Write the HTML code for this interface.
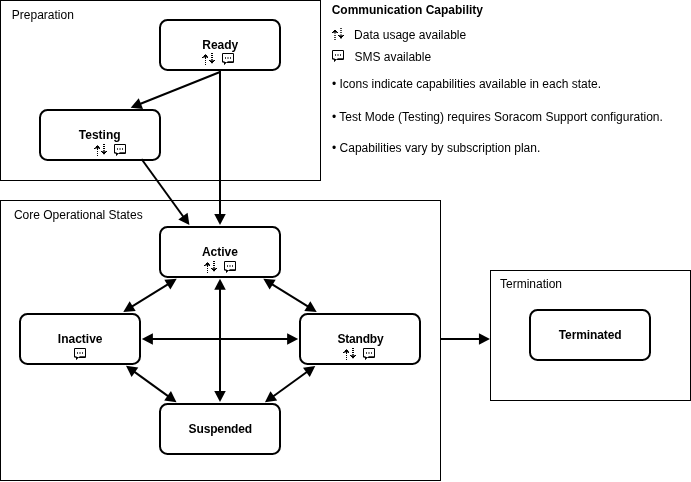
<!DOCTYPE html>
<html><head><meta charset="utf-8"><style>
html,body{margin:0;padding:0;background:#fff;width:691px;height:482px;overflow:hidden}
svg{display:block;will-change:transform}
text{font-family:"Liberation Sans",sans-serif;font-size:12px;fill:#000}
</style></head><body>
<svg width="691" height="482" viewBox="0 0 691 482">
<rect width="691" height="482" fill="#fff"/>
<rect x="0.5" y="0.5" width="320" height="180" fill="none" stroke="#000" stroke-width="1"/>
<rect x="0.5" y="200.5" width="440" height="280" fill="none" stroke="#000" stroke-width="1"/>
<rect x="490.5" y="270.5" width="200" height="130" fill="none" stroke="#000" stroke-width="1"/>
<rect x="160" y="20" width="120" height="50" rx="7.5" ry="7.5" fill="#fff" stroke="#000" stroke-width="2"/>
<rect x="40" y="110" width="120" height="50" rx="7.5" ry="7.5" fill="#fff" stroke="#000" stroke-width="2"/>
<rect x="160" y="227" width="120" height="50" rx="7.5" ry="7.5" fill="#fff" stroke="#000" stroke-width="2"/>
<rect x="20" y="314" width="120" height="50" rx="7.5" ry="7.5" fill="#fff" stroke="#000" stroke-width="2"/>
<rect x="300" y="314" width="120" height="50" rx="7.5" ry="7.5" fill="#fff" stroke="#000" stroke-width="2"/>
<rect x="160" y="404" width="120" height="50" rx="7.5" ry="7.5" fill="#fff" stroke="#000" stroke-width="2"/>
<rect x="530" y="310" width="120" height="50" rx="7.5" ry="7.5" fill="#fff" stroke="#000" stroke-width="2"/>
<path d="M130.68,107.73 L138.75,98.31 L143.02,108.98 Z" fill="#000"/>
<path d="M220.00,72.00 L139.96,104.02" fill="none" stroke="#000" stroke-width="2"/>
<path d="M220.00,224.95 L214.25,213.95 L225.75,213.95 Z" fill="#000"/>
<path d="M220.00,70.00 L220.00,214.95" fill="none" stroke="#000" stroke-width="2"/>
<path d="M189.41,225.08 L178.29,219.55 L187.60,212.80 Z" fill="#000"/>
<path d="M141.50,159.00 L183.54,216.99" fill="none" stroke="#000" stroke-width="2"/>
<path d="M123.30,311.88 L129.63,301.20 L135.68,310.98 Z" fill="#000"/>
<path d="M176.70,278.82 L170.37,289.50 L164.32,279.72 Z" fill="#000"/>
<path d="M168.20,284.08 L131.80,306.62" fill="none" stroke="#000" stroke-width="2"/>
<path d="M316.70,311.88 L304.32,310.98 L310.37,301.20 Z" fill="#000"/>
<path d="M263.30,278.82 L275.68,279.72 L269.63,289.50 Z" fill="#000"/>
<path d="M271.80,284.08 L308.20,306.62" fill="none" stroke="#000" stroke-width="2"/>
<path d="M176.48,402.20 L164.20,400.43 L170.93,391.11 Z" fill="#000"/>
<path d="M126.02,365.80 L138.30,367.57 L131.57,376.89 Z" fill="#000"/>
<path d="M134.13,371.65 L168.37,396.35" fill="none" stroke="#000" stroke-width="2"/>
<path d="M264.92,402.31 L270.46,391.20 L277.20,400.52 Z" fill="#000"/>
<path d="M315.28,365.89 L309.74,377.00 L303.00,367.68 Z" fill="#000"/>
<path d="M307.18,371.75 L273.02,396.45" fill="none" stroke="#000" stroke-width="2"/>
<path d="M298.15,339.00 L287.15,344.75 L287.15,333.25 Z" fill="#000"/>
<path d="M141.85,339.00 L152.85,333.25 L152.85,344.75 Z" fill="#000"/>
<path d="M151.85,339.00 L288.15,339.00" fill="none" stroke="#000" stroke-width="2"/>
<path d="M220.00,401.95 L214.25,390.95 L225.75,390.95 Z" fill="#000"/>
<path d="M220.00,278.85 L225.75,289.85 L214.25,289.85 Z" fill="#000"/>
<path d="M220.00,288.85 L220.00,391.95" fill="none" stroke="#000" stroke-width="2"/>
<path d="M489.95,339.00 L478.95,344.75 L478.95,333.25 Z" fill="#000"/>
<path d="M440.00,339.00 L479.95,339.00" fill="none" stroke="#000" stroke-width="2"/>
<g shape-rendering="crispEdges" fill="#000"><rect x="211" y="53" width="1" height="1" fill-opacity="1.0"/><rect x="212" y="53" width="1" height="1" fill-opacity="1.0"/><rect x="205" y="54" width="1" height="1" fill-opacity="0.72"/><rect x="204" y="55" width="1" height="1" fill-opacity="1.0"/><rect x="205" y="55" width="1" height="1" fill-opacity="1.0"/><rect x="206" y="55" width="1" height="1" fill-opacity="1.0"/><rect x="211" y="55" width="1" height="1" fill-opacity="1.0"/><rect x="212" y="55" width="1" height="1" fill-opacity="1.0"/><rect x="203" y="56" width="1" height="1" fill-opacity="0.72"/><rect x="204" y="56" width="1" height="1" fill-opacity="1.0"/><rect x="205" y="56" width="1" height="1" fill-opacity="1.0"/><rect x="206" y="56" width="1" height="1" fill-opacity="1.0"/><rect x="207" y="56" width="1" height="1" fill-opacity="0.72"/><rect x="202" y="57" width="1" height="1" fill-opacity="1.0"/><rect x="203" y="57" width="1" height="1" fill-opacity="0.72"/><rect x="204" y="57" width="1" height="1" fill-opacity="0.4"/><rect x="205" y="57" width="1" height="1" fill-opacity="1.0"/><rect x="206" y="57" width="1" height="1" fill-opacity="0.4"/><rect x="207" y="57" width="1" height="1" fill-opacity="1.0"/><rect x="211" y="57" width="1" height="1" fill-opacity="1.0"/><rect x="212" y="57" width="1" height="1" fill-opacity="1.0"/><rect x="205" y="58" width="1" height="1" fill-opacity="1.0"/><rect x="211" y="59" width="1" height="1" fill-opacity="0.72"/><rect x="212" y="59" width="1" height="1" fill-opacity="0.72"/><rect x="205" y="60" width="1" height="1" fill-opacity="1.0"/><rect x="209" y="60" width="1" height="1" fill-opacity="1.0"/><rect x="210" y="60" width="1" height="1" fill-opacity="0.72"/><rect x="211" y="60" width="1" height="1" fill-opacity="0.72"/><rect x="212" y="60" width="1" height="1" fill-opacity="0.72"/><rect x="213" y="60" width="1" height="1" fill-opacity="0.72"/><rect x="214" y="60" width="1" height="1" fill-opacity="1.0"/><rect x="210" y="61" width="1" height="1" fill-opacity="1.0"/><rect x="211" y="61" width="1" height="1" fill-opacity="1.0"/><rect x="212" y="61" width="1" height="1" fill-opacity="1.0"/><rect x="213" y="61" width="1" height="1" fill-opacity="1.0"/><rect x="205" y="62" width="1" height="1" fill-opacity="1.0"/><rect x="211" y="62" width="1" height="1" fill-opacity="1.0"/><rect x="212" y="62" width="1" height="1" fill-opacity="1.0"/><rect x="211" y="63" width="1" height="1" fill-opacity="0.2"/><rect x="212" y="63" width="1" height="1" fill-opacity="0.2"/><rect x="205" y="64" width="1" height="1" fill-opacity="1.0"/></g>
<g shape-rendering="crispEdges" fill="#000"><rect x="222" y="53" width="1" height="1" fill-opacity="0.72"/><rect x="223" y="53" width="1" height="1" fill-opacity="1.0"/><rect x="224" y="53" width="1" height="1" fill-opacity="1.0"/><rect x="225" y="53" width="1" height="1" fill-opacity="1.0"/><rect x="226" y="53" width="1" height="1" fill-opacity="1.0"/><rect x="227" y="53" width="1" height="1" fill-opacity="1.0"/><rect x="228" y="53" width="1" height="1" fill-opacity="1.0"/><rect x="229" y="53" width="1" height="1" fill-opacity="1.0"/><rect x="230" y="53" width="1" height="1" fill-opacity="1.0"/><rect x="231" y="53" width="1" height="1" fill-opacity="1.0"/><rect x="232" y="53" width="1" height="1" fill-opacity="1.0"/><rect x="233" y="53" width="1" height="1" fill-opacity="0.72"/><rect x="222" y="54" width="1" height="1" fill-opacity="1.0"/><rect x="233" y="54" width="1" height="1" fill-opacity="1.0"/><rect x="222" y="55" width="1" height="1" fill-opacity="1.0"/><rect x="233" y="55" width="1" height="1" fill-opacity="1.0"/><rect x="222" y="56" width="1" height="1" fill-opacity="1.0"/><rect x="233" y="56" width="1" height="1" fill-opacity="1.0"/><rect x="222" y="57" width="1" height="1" fill-opacity="1.0"/><rect x="225" y="57" width="1" height="1" fill-opacity="0.72"/><rect x="227" y="57" width="1" height="1" fill-opacity="0.4"/><rect x="228" y="57" width="1" height="1" fill-opacity="0.4"/><rect x="230" y="57" width="1" height="1" fill-opacity="0.72"/><rect x="233" y="57" width="1" height="1" fill-opacity="1.0"/><rect x="222" y="58" width="1" height="1" fill-opacity="1.0"/><rect x="225" y="58" width="1" height="1" fill-opacity="0.72"/><rect x="227" y="58" width="1" height="1" fill-opacity="0.4"/><rect x="228" y="58" width="1" height="1" fill-opacity="0.4"/><rect x="230" y="58" width="1" height="1" fill-opacity="0.72"/><rect x="233" y="58" width="1" height="1" fill-opacity="1.0"/><rect x="222" y="59" width="1" height="1" fill-opacity="1.0"/><rect x="233" y="59" width="1" height="1" fill-opacity="1.0"/><rect x="222" y="60" width="1" height="1" fill-opacity="1.0"/><rect x="233" y="60" width="1" height="1" fill-opacity="1.0"/><rect x="222" y="61" width="1" height="1" fill-opacity="1.0"/><rect x="223" y="61" width="1" height="1" fill-opacity="0.72"/><rect x="224" y="61" width="1" height="1" fill-opacity="0.4"/><rect x="227" y="61" width="1" height="1" fill-opacity="0.4"/><rect x="228" y="61" width="1" height="1" fill-opacity="0.72"/><rect x="229" y="61" width="1" height="1" fill-opacity="0.72"/><rect x="230" y="61" width="1" height="1" fill-opacity="0.72"/><rect x="231" y="61" width="1" height="1" fill-opacity="0.72"/><rect x="232" y="61" width="1" height="1" fill-opacity="0.72"/><rect x="233" y="61" width="1" height="1" fill-opacity="1.0"/><rect x="222" y="62" width="1" height="1" fill-opacity="0.4"/><rect x="223" y="62" width="1" height="1" fill-opacity="0.72"/><rect x="224" y="62" width="1" height="1" fill-opacity="1.0"/><rect x="225" y="62" width="1" height="1" fill-opacity="1.0"/><rect x="226" y="62" width="1" height="1" fill-opacity="0.72"/><rect x="227" y="62" width="1" height="1" fill-opacity="1.0"/><rect x="228" y="62" width="1" height="1" fill-opacity="1.0"/><rect x="229" y="62" width="1" height="1" fill-opacity="1.0"/><rect x="230" y="62" width="1" height="1" fill-opacity="1.0"/><rect x="231" y="62" width="1" height="1" fill-opacity="1.0"/><rect x="232" y="62" width="1" height="1" fill-opacity="1.0"/><rect x="233" y="62" width="1" height="1" fill-opacity="0.72"/><rect x="224" y="63" width="1" height="1" fill-opacity="1.0"/><rect x="225" y="63" width="1" height="1" fill-opacity="0.72"/><rect x="224" y="64" width="1" height="1" fill-opacity="0.72"/></g>
<g shape-rendering="crispEdges" fill="#000"><rect x="103" y="144" width="1" height="1" fill-opacity="1.0"/><rect x="104" y="144" width="1" height="1" fill-opacity="1.0"/><rect x="97" y="145" width="1" height="1" fill-opacity="0.72"/><rect x="96" y="146" width="1" height="1" fill-opacity="1.0"/><rect x="97" y="146" width="1" height="1" fill-opacity="1.0"/><rect x="98" y="146" width="1" height="1" fill-opacity="1.0"/><rect x="103" y="146" width="1" height="1" fill-opacity="1.0"/><rect x="104" y="146" width="1" height="1" fill-opacity="1.0"/><rect x="95" y="147" width="1" height="1" fill-opacity="0.72"/><rect x="96" y="147" width="1" height="1" fill-opacity="1.0"/><rect x="97" y="147" width="1" height="1" fill-opacity="1.0"/><rect x="98" y="147" width="1" height="1" fill-opacity="1.0"/><rect x="99" y="147" width="1" height="1" fill-opacity="0.72"/><rect x="94" y="148" width="1" height="1" fill-opacity="1.0"/><rect x="95" y="148" width="1" height="1" fill-opacity="0.72"/><rect x="96" y="148" width="1" height="1" fill-opacity="0.4"/><rect x="97" y="148" width="1" height="1" fill-opacity="1.0"/><rect x="98" y="148" width="1" height="1" fill-opacity="0.4"/><rect x="99" y="148" width="1" height="1" fill-opacity="1.0"/><rect x="103" y="148" width="1" height="1" fill-opacity="1.0"/><rect x="104" y="148" width="1" height="1" fill-opacity="1.0"/><rect x="97" y="149" width="1" height="1" fill-opacity="1.0"/><rect x="103" y="150" width="1" height="1" fill-opacity="0.72"/><rect x="104" y="150" width="1" height="1" fill-opacity="0.72"/><rect x="97" y="151" width="1" height="1" fill-opacity="1.0"/><rect x="101" y="151" width="1" height="1" fill-opacity="1.0"/><rect x="102" y="151" width="1" height="1" fill-opacity="0.72"/><rect x="103" y="151" width="1" height="1" fill-opacity="0.72"/><rect x="104" y="151" width="1" height="1" fill-opacity="0.72"/><rect x="105" y="151" width="1" height="1" fill-opacity="0.72"/><rect x="106" y="151" width="1" height="1" fill-opacity="1.0"/><rect x="102" y="152" width="1" height="1" fill-opacity="1.0"/><rect x="103" y="152" width="1" height="1" fill-opacity="1.0"/><rect x="104" y="152" width="1" height="1" fill-opacity="1.0"/><rect x="105" y="152" width="1" height="1" fill-opacity="1.0"/><rect x="97" y="153" width="1" height="1" fill-opacity="1.0"/><rect x="103" y="153" width="1" height="1" fill-opacity="1.0"/><rect x="104" y="153" width="1" height="1" fill-opacity="1.0"/><rect x="103" y="154" width="1" height="1" fill-opacity="0.2"/><rect x="104" y="154" width="1" height="1" fill-opacity="0.2"/><rect x="97" y="155" width="1" height="1" fill-opacity="1.0"/></g>
<g shape-rendering="crispEdges" fill="#000"><rect x="114" y="144" width="1" height="1" fill-opacity="0.72"/><rect x="115" y="144" width="1" height="1" fill-opacity="1.0"/><rect x="116" y="144" width="1" height="1" fill-opacity="1.0"/><rect x="117" y="144" width="1" height="1" fill-opacity="1.0"/><rect x="118" y="144" width="1" height="1" fill-opacity="1.0"/><rect x="119" y="144" width="1" height="1" fill-opacity="1.0"/><rect x="120" y="144" width="1" height="1" fill-opacity="1.0"/><rect x="121" y="144" width="1" height="1" fill-opacity="1.0"/><rect x="122" y="144" width="1" height="1" fill-opacity="1.0"/><rect x="123" y="144" width="1" height="1" fill-opacity="1.0"/><rect x="124" y="144" width="1" height="1" fill-opacity="1.0"/><rect x="125" y="144" width="1" height="1" fill-opacity="0.72"/><rect x="114" y="145" width="1" height="1" fill-opacity="1.0"/><rect x="125" y="145" width="1" height="1" fill-opacity="1.0"/><rect x="114" y="146" width="1" height="1" fill-opacity="1.0"/><rect x="125" y="146" width="1" height="1" fill-opacity="1.0"/><rect x="114" y="147" width="1" height="1" fill-opacity="1.0"/><rect x="125" y="147" width="1" height="1" fill-opacity="1.0"/><rect x="114" y="148" width="1" height="1" fill-opacity="1.0"/><rect x="117" y="148" width="1" height="1" fill-opacity="0.72"/><rect x="119" y="148" width="1" height="1" fill-opacity="0.4"/><rect x="120" y="148" width="1" height="1" fill-opacity="0.4"/><rect x="122" y="148" width="1" height="1" fill-opacity="0.72"/><rect x="125" y="148" width="1" height="1" fill-opacity="1.0"/><rect x="114" y="149" width="1" height="1" fill-opacity="1.0"/><rect x="117" y="149" width="1" height="1" fill-opacity="0.72"/><rect x="119" y="149" width="1" height="1" fill-opacity="0.4"/><rect x="120" y="149" width="1" height="1" fill-opacity="0.4"/><rect x="122" y="149" width="1" height="1" fill-opacity="0.72"/><rect x="125" y="149" width="1" height="1" fill-opacity="1.0"/><rect x="114" y="150" width="1" height="1" fill-opacity="1.0"/><rect x="125" y="150" width="1" height="1" fill-opacity="1.0"/><rect x="114" y="151" width="1" height="1" fill-opacity="1.0"/><rect x="125" y="151" width="1" height="1" fill-opacity="1.0"/><rect x="114" y="152" width="1" height="1" fill-opacity="1.0"/><rect x="115" y="152" width="1" height="1" fill-opacity="0.72"/><rect x="116" y="152" width="1" height="1" fill-opacity="0.4"/><rect x="119" y="152" width="1" height="1" fill-opacity="0.4"/><rect x="120" y="152" width="1" height="1" fill-opacity="0.72"/><rect x="121" y="152" width="1" height="1" fill-opacity="0.72"/><rect x="122" y="152" width="1" height="1" fill-opacity="0.72"/><rect x="123" y="152" width="1" height="1" fill-opacity="0.72"/><rect x="124" y="152" width="1" height="1" fill-opacity="0.72"/><rect x="125" y="152" width="1" height="1" fill-opacity="1.0"/><rect x="114" y="153" width="1" height="1" fill-opacity="0.4"/><rect x="115" y="153" width="1" height="1" fill-opacity="0.72"/><rect x="116" y="153" width="1" height="1" fill-opacity="1.0"/><rect x="117" y="153" width="1" height="1" fill-opacity="1.0"/><rect x="118" y="153" width="1" height="1" fill-opacity="0.72"/><rect x="119" y="153" width="1" height="1" fill-opacity="1.0"/><rect x="120" y="153" width="1" height="1" fill-opacity="1.0"/><rect x="121" y="153" width="1" height="1" fill-opacity="1.0"/><rect x="122" y="153" width="1" height="1" fill-opacity="1.0"/><rect x="123" y="153" width="1" height="1" fill-opacity="1.0"/><rect x="124" y="153" width="1" height="1" fill-opacity="1.0"/><rect x="125" y="153" width="1" height="1" fill-opacity="0.72"/><rect x="116" y="154" width="1" height="1" fill-opacity="1.0"/><rect x="117" y="154" width="1" height="1" fill-opacity="0.72"/><rect x="116" y="155" width="1" height="1" fill-opacity="0.72"/></g>
<g shape-rendering="crispEdges" fill="#000"><rect x="213" y="261" width="1" height="1" fill-opacity="1.0"/><rect x="214" y="261" width="1" height="1" fill-opacity="1.0"/><rect x="207" y="262" width="1" height="1" fill-opacity="0.72"/><rect x="206" y="263" width="1" height="1" fill-opacity="1.0"/><rect x="207" y="263" width="1" height="1" fill-opacity="1.0"/><rect x="208" y="263" width="1" height="1" fill-opacity="1.0"/><rect x="213" y="263" width="1" height="1" fill-opacity="1.0"/><rect x="214" y="263" width="1" height="1" fill-opacity="1.0"/><rect x="205" y="264" width="1" height="1" fill-opacity="0.72"/><rect x="206" y="264" width="1" height="1" fill-opacity="1.0"/><rect x="207" y="264" width="1" height="1" fill-opacity="1.0"/><rect x="208" y="264" width="1" height="1" fill-opacity="1.0"/><rect x="209" y="264" width="1" height="1" fill-opacity="0.72"/><rect x="204" y="265" width="1" height="1" fill-opacity="1.0"/><rect x="205" y="265" width="1" height="1" fill-opacity="0.72"/><rect x="206" y="265" width="1" height="1" fill-opacity="0.4"/><rect x="207" y="265" width="1" height="1" fill-opacity="1.0"/><rect x="208" y="265" width="1" height="1" fill-opacity="0.4"/><rect x="209" y="265" width="1" height="1" fill-opacity="1.0"/><rect x="213" y="265" width="1" height="1" fill-opacity="1.0"/><rect x="214" y="265" width="1" height="1" fill-opacity="1.0"/><rect x="207" y="266" width="1" height="1" fill-opacity="1.0"/><rect x="213" y="267" width="1" height="1" fill-opacity="0.72"/><rect x="214" y="267" width="1" height="1" fill-opacity="0.72"/><rect x="207" y="268" width="1" height="1" fill-opacity="1.0"/><rect x="211" y="268" width="1" height="1" fill-opacity="1.0"/><rect x="212" y="268" width="1" height="1" fill-opacity="0.72"/><rect x="213" y="268" width="1" height="1" fill-opacity="0.72"/><rect x="214" y="268" width="1" height="1" fill-opacity="0.72"/><rect x="215" y="268" width="1" height="1" fill-opacity="0.72"/><rect x="216" y="268" width="1" height="1" fill-opacity="1.0"/><rect x="212" y="269" width="1" height="1" fill-opacity="1.0"/><rect x="213" y="269" width="1" height="1" fill-opacity="1.0"/><rect x="214" y="269" width="1" height="1" fill-opacity="1.0"/><rect x="215" y="269" width="1" height="1" fill-opacity="1.0"/><rect x="207" y="270" width="1" height="1" fill-opacity="1.0"/><rect x="213" y="270" width="1" height="1" fill-opacity="1.0"/><rect x="214" y="270" width="1" height="1" fill-opacity="1.0"/><rect x="213" y="271" width="1" height="1" fill-opacity="0.2"/><rect x="214" y="271" width="1" height="1" fill-opacity="0.2"/><rect x="207" y="272" width="1" height="1" fill-opacity="1.0"/></g>
<g shape-rendering="crispEdges" fill="#000"><rect x="224" y="261" width="1" height="1" fill-opacity="0.72"/><rect x="225" y="261" width="1" height="1" fill-opacity="1.0"/><rect x="226" y="261" width="1" height="1" fill-opacity="1.0"/><rect x="227" y="261" width="1" height="1" fill-opacity="1.0"/><rect x="228" y="261" width="1" height="1" fill-opacity="1.0"/><rect x="229" y="261" width="1" height="1" fill-opacity="1.0"/><rect x="230" y="261" width="1" height="1" fill-opacity="1.0"/><rect x="231" y="261" width="1" height="1" fill-opacity="1.0"/><rect x="232" y="261" width="1" height="1" fill-opacity="1.0"/><rect x="233" y="261" width="1" height="1" fill-opacity="1.0"/><rect x="234" y="261" width="1" height="1" fill-opacity="1.0"/><rect x="235" y="261" width="1" height="1" fill-opacity="0.72"/><rect x="224" y="262" width="1" height="1" fill-opacity="1.0"/><rect x="235" y="262" width="1" height="1" fill-opacity="1.0"/><rect x="224" y="263" width="1" height="1" fill-opacity="1.0"/><rect x="235" y="263" width="1" height="1" fill-opacity="1.0"/><rect x="224" y="264" width="1" height="1" fill-opacity="1.0"/><rect x="235" y="264" width="1" height="1" fill-opacity="1.0"/><rect x="224" y="265" width="1" height="1" fill-opacity="1.0"/><rect x="227" y="265" width="1" height="1" fill-opacity="0.72"/><rect x="229" y="265" width="1" height="1" fill-opacity="0.4"/><rect x="230" y="265" width="1" height="1" fill-opacity="0.4"/><rect x="232" y="265" width="1" height="1" fill-opacity="0.72"/><rect x="235" y="265" width="1" height="1" fill-opacity="1.0"/><rect x="224" y="266" width="1" height="1" fill-opacity="1.0"/><rect x="227" y="266" width="1" height="1" fill-opacity="0.72"/><rect x="229" y="266" width="1" height="1" fill-opacity="0.4"/><rect x="230" y="266" width="1" height="1" fill-opacity="0.4"/><rect x="232" y="266" width="1" height="1" fill-opacity="0.72"/><rect x="235" y="266" width="1" height="1" fill-opacity="1.0"/><rect x="224" y="267" width="1" height="1" fill-opacity="1.0"/><rect x="235" y="267" width="1" height="1" fill-opacity="1.0"/><rect x="224" y="268" width="1" height="1" fill-opacity="1.0"/><rect x="235" y="268" width="1" height="1" fill-opacity="1.0"/><rect x="224" y="269" width="1" height="1" fill-opacity="1.0"/><rect x="225" y="269" width="1" height="1" fill-opacity="0.72"/><rect x="226" y="269" width="1" height="1" fill-opacity="0.4"/><rect x="229" y="269" width="1" height="1" fill-opacity="0.4"/><rect x="230" y="269" width="1" height="1" fill-opacity="0.72"/><rect x="231" y="269" width="1" height="1" fill-opacity="0.72"/><rect x="232" y="269" width="1" height="1" fill-opacity="0.72"/><rect x="233" y="269" width="1" height="1" fill-opacity="0.72"/><rect x="234" y="269" width="1" height="1" fill-opacity="0.72"/><rect x="235" y="269" width="1" height="1" fill-opacity="1.0"/><rect x="224" y="270" width="1" height="1" fill-opacity="0.4"/><rect x="225" y="270" width="1" height="1" fill-opacity="0.72"/><rect x="226" y="270" width="1" height="1" fill-opacity="1.0"/><rect x="227" y="270" width="1" height="1" fill-opacity="1.0"/><rect x="228" y="270" width="1" height="1" fill-opacity="0.72"/><rect x="229" y="270" width="1" height="1" fill-opacity="1.0"/><rect x="230" y="270" width="1" height="1" fill-opacity="1.0"/><rect x="231" y="270" width="1" height="1" fill-opacity="1.0"/><rect x="232" y="270" width="1" height="1" fill-opacity="1.0"/><rect x="233" y="270" width="1" height="1" fill-opacity="1.0"/><rect x="234" y="270" width="1" height="1" fill-opacity="1.0"/><rect x="235" y="270" width="1" height="1" fill-opacity="0.72"/><rect x="226" y="271" width="1" height="1" fill-opacity="1.0"/><rect x="227" y="271" width="1" height="1" fill-opacity="0.72"/><rect x="226" y="272" width="1" height="1" fill-opacity="0.72"/></g>
<g shape-rendering="crispEdges" fill="#000"><rect x="352" y="348" width="1" height="1" fill-opacity="1.0"/><rect x="353" y="348" width="1" height="1" fill-opacity="1.0"/><rect x="346" y="349" width="1" height="1" fill-opacity="0.72"/><rect x="345" y="350" width="1" height="1" fill-opacity="1.0"/><rect x="346" y="350" width="1" height="1" fill-opacity="1.0"/><rect x="347" y="350" width="1" height="1" fill-opacity="1.0"/><rect x="352" y="350" width="1" height="1" fill-opacity="1.0"/><rect x="353" y="350" width="1" height="1" fill-opacity="1.0"/><rect x="344" y="351" width="1" height="1" fill-opacity="0.72"/><rect x="345" y="351" width="1" height="1" fill-opacity="1.0"/><rect x="346" y="351" width="1" height="1" fill-opacity="1.0"/><rect x="347" y="351" width="1" height="1" fill-opacity="1.0"/><rect x="348" y="351" width="1" height="1" fill-opacity="0.72"/><rect x="343" y="352" width="1" height="1" fill-opacity="1.0"/><rect x="344" y="352" width="1" height="1" fill-opacity="0.72"/><rect x="345" y="352" width="1" height="1" fill-opacity="0.4"/><rect x="346" y="352" width="1" height="1" fill-opacity="1.0"/><rect x="347" y="352" width="1" height="1" fill-opacity="0.4"/><rect x="348" y="352" width="1" height="1" fill-opacity="1.0"/><rect x="352" y="352" width="1" height="1" fill-opacity="1.0"/><rect x="353" y="352" width="1" height="1" fill-opacity="1.0"/><rect x="346" y="353" width="1" height="1" fill-opacity="1.0"/><rect x="352" y="354" width="1" height="1" fill-opacity="0.72"/><rect x="353" y="354" width="1" height="1" fill-opacity="0.72"/><rect x="346" y="355" width="1" height="1" fill-opacity="1.0"/><rect x="350" y="355" width="1" height="1" fill-opacity="1.0"/><rect x="351" y="355" width="1" height="1" fill-opacity="0.72"/><rect x="352" y="355" width="1" height="1" fill-opacity="0.72"/><rect x="353" y="355" width="1" height="1" fill-opacity="0.72"/><rect x="354" y="355" width="1" height="1" fill-opacity="0.72"/><rect x="355" y="355" width="1" height="1" fill-opacity="1.0"/><rect x="351" y="356" width="1" height="1" fill-opacity="1.0"/><rect x="352" y="356" width="1" height="1" fill-opacity="1.0"/><rect x="353" y="356" width="1" height="1" fill-opacity="1.0"/><rect x="354" y="356" width="1" height="1" fill-opacity="1.0"/><rect x="346" y="357" width="1" height="1" fill-opacity="1.0"/><rect x="352" y="357" width="1" height="1" fill-opacity="1.0"/><rect x="353" y="357" width="1" height="1" fill-opacity="1.0"/><rect x="352" y="358" width="1" height="1" fill-opacity="0.2"/><rect x="353" y="358" width="1" height="1" fill-opacity="0.2"/><rect x="346" y="359" width="1" height="1" fill-opacity="1.0"/></g>
<g shape-rendering="crispEdges" fill="#000"><rect x="363" y="348" width="1" height="1" fill-opacity="0.72"/><rect x="364" y="348" width="1" height="1" fill-opacity="1.0"/><rect x="365" y="348" width="1" height="1" fill-opacity="1.0"/><rect x="366" y="348" width="1" height="1" fill-opacity="1.0"/><rect x="367" y="348" width="1" height="1" fill-opacity="1.0"/><rect x="368" y="348" width="1" height="1" fill-opacity="1.0"/><rect x="369" y="348" width="1" height="1" fill-opacity="1.0"/><rect x="370" y="348" width="1" height="1" fill-opacity="1.0"/><rect x="371" y="348" width="1" height="1" fill-opacity="1.0"/><rect x="372" y="348" width="1" height="1" fill-opacity="1.0"/><rect x="373" y="348" width="1" height="1" fill-opacity="1.0"/><rect x="374" y="348" width="1" height="1" fill-opacity="0.72"/><rect x="363" y="349" width="1" height="1" fill-opacity="1.0"/><rect x="374" y="349" width="1" height="1" fill-opacity="1.0"/><rect x="363" y="350" width="1" height="1" fill-opacity="1.0"/><rect x="374" y="350" width="1" height="1" fill-opacity="1.0"/><rect x="363" y="351" width="1" height="1" fill-opacity="1.0"/><rect x="374" y="351" width="1" height="1" fill-opacity="1.0"/><rect x="363" y="352" width="1" height="1" fill-opacity="1.0"/><rect x="366" y="352" width="1" height="1" fill-opacity="0.72"/><rect x="368" y="352" width="1" height="1" fill-opacity="0.4"/><rect x="369" y="352" width="1" height="1" fill-opacity="0.4"/><rect x="371" y="352" width="1" height="1" fill-opacity="0.72"/><rect x="374" y="352" width="1" height="1" fill-opacity="1.0"/><rect x="363" y="353" width="1" height="1" fill-opacity="1.0"/><rect x="366" y="353" width="1" height="1" fill-opacity="0.72"/><rect x="368" y="353" width="1" height="1" fill-opacity="0.4"/><rect x="369" y="353" width="1" height="1" fill-opacity="0.4"/><rect x="371" y="353" width="1" height="1" fill-opacity="0.72"/><rect x="374" y="353" width="1" height="1" fill-opacity="1.0"/><rect x="363" y="354" width="1" height="1" fill-opacity="1.0"/><rect x="374" y="354" width="1" height="1" fill-opacity="1.0"/><rect x="363" y="355" width="1" height="1" fill-opacity="1.0"/><rect x="374" y="355" width="1" height="1" fill-opacity="1.0"/><rect x="363" y="356" width="1" height="1" fill-opacity="1.0"/><rect x="364" y="356" width="1" height="1" fill-opacity="0.72"/><rect x="365" y="356" width="1" height="1" fill-opacity="0.4"/><rect x="368" y="356" width="1" height="1" fill-opacity="0.4"/><rect x="369" y="356" width="1" height="1" fill-opacity="0.72"/><rect x="370" y="356" width="1" height="1" fill-opacity="0.72"/><rect x="371" y="356" width="1" height="1" fill-opacity="0.72"/><rect x="372" y="356" width="1" height="1" fill-opacity="0.72"/><rect x="373" y="356" width="1" height="1" fill-opacity="0.72"/><rect x="374" y="356" width="1" height="1" fill-opacity="1.0"/><rect x="363" y="357" width="1" height="1" fill-opacity="0.4"/><rect x="364" y="357" width="1" height="1" fill-opacity="0.72"/><rect x="365" y="357" width="1" height="1" fill-opacity="1.0"/><rect x="366" y="357" width="1" height="1" fill-opacity="1.0"/><rect x="367" y="357" width="1" height="1" fill-opacity="0.72"/><rect x="368" y="357" width="1" height="1" fill-opacity="1.0"/><rect x="369" y="357" width="1" height="1" fill-opacity="1.0"/><rect x="370" y="357" width="1" height="1" fill-opacity="1.0"/><rect x="371" y="357" width="1" height="1" fill-opacity="1.0"/><rect x="372" y="357" width="1" height="1" fill-opacity="1.0"/><rect x="373" y="357" width="1" height="1" fill-opacity="1.0"/><rect x="374" y="357" width="1" height="1" fill-opacity="0.72"/><rect x="365" y="358" width="1" height="1" fill-opacity="1.0"/><rect x="366" y="358" width="1" height="1" fill-opacity="0.72"/><rect x="365" y="359" width="1" height="1" fill-opacity="0.72"/></g>
<g shape-rendering="crispEdges" fill="#000"><rect x="74" y="348" width="1" height="1" fill-opacity="0.72"/><rect x="75" y="348" width="1" height="1" fill-opacity="1.0"/><rect x="76" y="348" width="1" height="1" fill-opacity="1.0"/><rect x="77" y="348" width="1" height="1" fill-opacity="1.0"/><rect x="78" y="348" width="1" height="1" fill-opacity="1.0"/><rect x="79" y="348" width="1" height="1" fill-opacity="1.0"/><rect x="80" y="348" width="1" height="1" fill-opacity="1.0"/><rect x="81" y="348" width="1" height="1" fill-opacity="1.0"/><rect x="82" y="348" width="1" height="1" fill-opacity="1.0"/><rect x="83" y="348" width="1" height="1" fill-opacity="1.0"/><rect x="84" y="348" width="1" height="1" fill-opacity="1.0"/><rect x="85" y="348" width="1" height="1" fill-opacity="0.72"/><rect x="74" y="349" width="1" height="1" fill-opacity="1.0"/><rect x="85" y="349" width="1" height="1" fill-opacity="1.0"/><rect x="74" y="350" width="1" height="1" fill-opacity="1.0"/><rect x="85" y="350" width="1" height="1" fill-opacity="1.0"/><rect x="74" y="351" width="1" height="1" fill-opacity="1.0"/><rect x="85" y="351" width="1" height="1" fill-opacity="1.0"/><rect x="74" y="352" width="1" height="1" fill-opacity="1.0"/><rect x="77" y="352" width="1" height="1" fill-opacity="0.72"/><rect x="79" y="352" width="1" height="1" fill-opacity="0.4"/><rect x="80" y="352" width="1" height="1" fill-opacity="0.4"/><rect x="82" y="352" width="1" height="1" fill-opacity="0.72"/><rect x="85" y="352" width="1" height="1" fill-opacity="1.0"/><rect x="74" y="353" width="1" height="1" fill-opacity="1.0"/><rect x="77" y="353" width="1" height="1" fill-opacity="0.72"/><rect x="79" y="353" width="1" height="1" fill-opacity="0.4"/><rect x="80" y="353" width="1" height="1" fill-opacity="0.4"/><rect x="82" y="353" width="1" height="1" fill-opacity="0.72"/><rect x="85" y="353" width="1" height="1" fill-opacity="1.0"/><rect x="74" y="354" width="1" height="1" fill-opacity="1.0"/><rect x="85" y="354" width="1" height="1" fill-opacity="1.0"/><rect x="74" y="355" width="1" height="1" fill-opacity="1.0"/><rect x="85" y="355" width="1" height="1" fill-opacity="1.0"/><rect x="74" y="356" width="1" height="1" fill-opacity="1.0"/><rect x="75" y="356" width="1" height="1" fill-opacity="0.72"/><rect x="76" y="356" width="1" height="1" fill-opacity="0.4"/><rect x="79" y="356" width="1" height="1" fill-opacity="0.4"/><rect x="80" y="356" width="1" height="1" fill-opacity="0.72"/><rect x="81" y="356" width="1" height="1" fill-opacity="0.72"/><rect x="82" y="356" width="1" height="1" fill-opacity="0.72"/><rect x="83" y="356" width="1" height="1" fill-opacity="0.72"/><rect x="84" y="356" width="1" height="1" fill-opacity="0.72"/><rect x="85" y="356" width="1" height="1" fill-opacity="1.0"/><rect x="74" y="357" width="1" height="1" fill-opacity="0.4"/><rect x="75" y="357" width="1" height="1" fill-opacity="0.72"/><rect x="76" y="357" width="1" height="1" fill-opacity="1.0"/><rect x="77" y="357" width="1" height="1" fill-opacity="1.0"/><rect x="78" y="357" width="1" height="1" fill-opacity="0.72"/><rect x="79" y="357" width="1" height="1" fill-opacity="1.0"/><rect x="80" y="357" width="1" height="1" fill-opacity="1.0"/><rect x="81" y="357" width="1" height="1" fill-opacity="1.0"/><rect x="82" y="357" width="1" height="1" fill-opacity="1.0"/><rect x="83" y="357" width="1" height="1" fill-opacity="1.0"/><rect x="84" y="357" width="1" height="1" fill-opacity="1.0"/><rect x="85" y="357" width="1" height="1" fill-opacity="0.72"/><rect x="76" y="358" width="1" height="1" fill-opacity="1.0"/><rect x="77" y="358" width="1" height="1" fill-opacity="0.72"/><rect x="76" y="359" width="1" height="1" fill-opacity="0.72"/></g>
<g shape-rendering="crispEdges" fill="#000"><rect x="340" y="28" width="1" height="1" fill-opacity="0.72"/><rect x="341" y="28" width="1" height="1" fill-opacity="0.72"/><rect x="334" y="30" width="1" height="1" fill-opacity="1.0"/><rect x="335" y="30" width="1" height="1" fill-opacity="1.0"/><rect x="340" y="30" width="1" height="1" fill-opacity="0.72"/><rect x="341" y="30" width="1" height="1" fill-opacity="0.72"/><rect x="333" y="31" width="1" height="1" fill-opacity="1.0"/><rect x="334" y="31" width="1" height="1" fill-opacity="1.0"/><rect x="335" y="31" width="1" height="1" fill-opacity="1.0"/><rect x="336" y="31" width="1" height="1" fill-opacity="1.0"/><rect x="332" y="32" width="1" height="1" fill-opacity="1.0"/><rect x="333" y="32" width="1" height="1" fill-opacity="0.72"/><rect x="334" y="32" width="1" height="1" fill-opacity="0.72"/><rect x="335" y="32" width="1" height="1" fill-opacity="0.72"/><rect x="336" y="32" width="1" height="1" fill-opacity="0.72"/><rect x="337" y="32" width="1" height="1" fill-opacity="1.0"/><rect x="340" y="32" width="1" height="1" fill-opacity="0.72"/><rect x="341" y="32" width="1" height="1" fill-opacity="0.72"/><rect x="334" y="33" width="1" height="1" fill-opacity="0.4"/><rect x="335" y="33" width="1" height="1" fill-opacity="0.4"/><rect x="340" y="34" width="1" height="1" fill-opacity="0.4"/><rect x="341" y="34" width="1" height="1" fill-opacity="0.4"/><rect x="334" y="35" width="1" height="1" fill-opacity="0.72"/><rect x="335" y="35" width="1" height="1" fill-opacity="0.72"/><rect x="338" y="35" width="1" height="1" fill-opacity="1.0"/><rect x="339" y="35" width="1" height="1" fill-opacity="0.72"/><rect x="340" y="35" width="1" height="1" fill-opacity="0.72"/><rect x="341" y="35" width="1" height="1" fill-opacity="0.72"/><rect x="342" y="35" width="1" height="1" fill-opacity="0.72"/><rect x="343" y="35" width="1" height="1" fill-opacity="1.0"/><rect x="339" y="36" width="1" height="1" fill-opacity="1.0"/><rect x="340" y="36" width="1" height="1" fill-opacity="1.0"/><rect x="341" y="36" width="1" height="1" fill-opacity="1.0"/><rect x="342" y="36" width="1" height="1" fill-opacity="1.0"/><rect x="334" y="37" width="1" height="1" fill-opacity="0.72"/><rect x="335" y="37" width="1" height="1" fill-opacity="0.72"/><rect x="340" y="37" width="1" height="1" fill-opacity="1.0"/><rect x="341" y="37" width="1" height="1" fill-opacity="1.0"/><rect x="340" y="38" width="1" height="1" fill-opacity="0.4"/><rect x="341" y="38" width="1" height="1" fill-opacity="0.4"/><rect x="334" y="39" width="1" height="1" fill-opacity="0.72"/><rect x="335" y="39" width="1" height="1" fill-opacity="0.72"/></g>
<g shape-rendering="crispEdges" fill="#000"><rect x="332" y="50" width="1" height="1" fill-opacity="0.72"/><rect x="333" y="50" width="1" height="1" fill-opacity="1.0"/><rect x="334" y="50" width="1" height="1" fill-opacity="1.0"/><rect x="335" y="50" width="1" height="1" fill-opacity="1.0"/><rect x="336" y="50" width="1" height="1" fill-opacity="1.0"/><rect x="337" y="50" width="1" height="1" fill-opacity="1.0"/><rect x="338" y="50" width="1" height="1" fill-opacity="1.0"/><rect x="339" y="50" width="1" height="1" fill-opacity="1.0"/><rect x="340" y="50" width="1" height="1" fill-opacity="1.0"/><rect x="341" y="50" width="1" height="1" fill-opacity="1.0"/><rect x="342" y="50" width="1" height="1" fill-opacity="1.0"/><rect x="343" y="50" width="1" height="1" fill-opacity="0.72"/><rect x="332" y="51" width="1" height="1" fill-opacity="1.0"/><rect x="343" y="51" width="1" height="1" fill-opacity="1.0"/><rect x="332" y="52" width="1" height="1" fill-opacity="1.0"/><rect x="343" y="52" width="1" height="1" fill-opacity="1.0"/><rect x="332" y="53" width="1" height="1" fill-opacity="1.0"/><rect x="343" y="53" width="1" height="1" fill-opacity="1.0"/><rect x="332" y="54" width="1" height="1" fill-opacity="1.0"/><rect x="335" y="54" width="1" height="1" fill-opacity="0.72"/><rect x="337" y="54" width="1" height="1" fill-opacity="0.4"/><rect x="338" y="54" width="1" height="1" fill-opacity="0.4"/><rect x="340" y="54" width="1" height="1" fill-opacity="0.72"/><rect x="343" y="54" width="1" height="1" fill-opacity="1.0"/><rect x="332" y="55" width="1" height="1" fill-opacity="1.0"/><rect x="335" y="55" width="1" height="1" fill-opacity="0.72"/><rect x="337" y="55" width="1" height="1" fill-opacity="0.4"/><rect x="338" y="55" width="1" height="1" fill-opacity="0.4"/><rect x="340" y="55" width="1" height="1" fill-opacity="0.72"/><rect x="343" y="55" width="1" height="1" fill-opacity="1.0"/><rect x="332" y="56" width="1" height="1" fill-opacity="1.0"/><rect x="343" y="56" width="1" height="1" fill-opacity="1.0"/><rect x="332" y="57" width="1" height="1" fill-opacity="1.0"/><rect x="343" y="57" width="1" height="1" fill-opacity="1.0"/><rect x="332" y="58" width="1" height="1" fill-opacity="1.0"/><rect x="333" y="58" width="1" height="1" fill-opacity="0.72"/><rect x="334" y="58" width="1" height="1" fill-opacity="0.4"/><rect x="337" y="58" width="1" height="1" fill-opacity="0.4"/><rect x="338" y="58" width="1" height="1" fill-opacity="0.72"/><rect x="339" y="58" width="1" height="1" fill-opacity="0.72"/><rect x="340" y="58" width="1" height="1" fill-opacity="0.72"/><rect x="341" y="58" width="1" height="1" fill-opacity="0.72"/><rect x="342" y="58" width="1" height="1" fill-opacity="0.72"/><rect x="343" y="58" width="1" height="1" fill-opacity="1.0"/><rect x="332" y="59" width="1" height="1" fill-opacity="0.4"/><rect x="333" y="59" width="1" height="1" fill-opacity="0.72"/><rect x="334" y="59" width="1" height="1" fill-opacity="1.0"/><rect x="335" y="59" width="1" height="1" fill-opacity="1.0"/><rect x="336" y="59" width="1" height="1" fill-opacity="0.72"/><rect x="337" y="59" width="1" height="1" fill-opacity="1.0"/><rect x="338" y="59" width="1" height="1" fill-opacity="1.0"/><rect x="339" y="59" width="1" height="1" fill-opacity="1.0"/><rect x="340" y="59" width="1" height="1" fill-opacity="1.0"/><rect x="341" y="59" width="1" height="1" fill-opacity="1.0"/><rect x="342" y="59" width="1" height="1" fill-opacity="1.0"/><rect x="343" y="59" width="1" height="1" fill-opacity="0.72"/><rect x="334" y="60" width="1" height="1" fill-opacity="1.0"/><rect x="335" y="60" width="1" height="1" fill-opacity="0.72"/><rect x="334" y="61" width="1" height="1" fill-opacity="0.72"/></g>
<text x="11.8" y="19" font-weight="400" text-anchor="start">Preparation</text>
<text x="13.9" y="219" font-weight="400" text-anchor="start">Core Operational States</text>
<text x="500" y="288" font-weight="400" text-anchor="start">Termination</text>
<text x="331.7" y="14" font-weight="700" text-anchor="start">Communication Capability</text>
<text x="354.1" y="38.6" font-weight="400" text-anchor="start">Data usage available</text>
<text x="354.4" y="61" font-weight="400" text-anchor="start">SMS available</text>
<text x="332" y="87.8" font-weight="400" text-anchor="start">• Icons indicate capabilities available in each state.</text>
<text x="332" y="120.8" font-weight="400" text-anchor="start">• Test Mode (Testing) requires Soracom Support configuration.</text>
<text x="332" y="152.2" font-weight="400" text-anchor="start">• Capabilities vary by subscription plan.</text>
<text x="220.25" y="48.5" font-weight="700" text-anchor="middle">Ready</text>
<text x="99.7" y="138.6" font-weight="700" text-anchor="middle">Testing</text>
<text x="219.9" y="255.8" font-weight="700" text-anchor="middle">Active</text>
<text x="80.2" y="342.8" font-weight="700" text-anchor="middle">Inactive</text>
<text x="360.5" y="342.8" font-weight="700" text-anchor="middle" letter-spacing="-0.2">Standby</text>
<text x="220.3" y="433" font-weight="700" text-anchor="middle" letter-spacing="-0.14">Suspended</text>
<text x="590.1" y="338.6" font-weight="700" text-anchor="middle" letter-spacing="-0.11">Terminated</text>
</svg></body></html>
